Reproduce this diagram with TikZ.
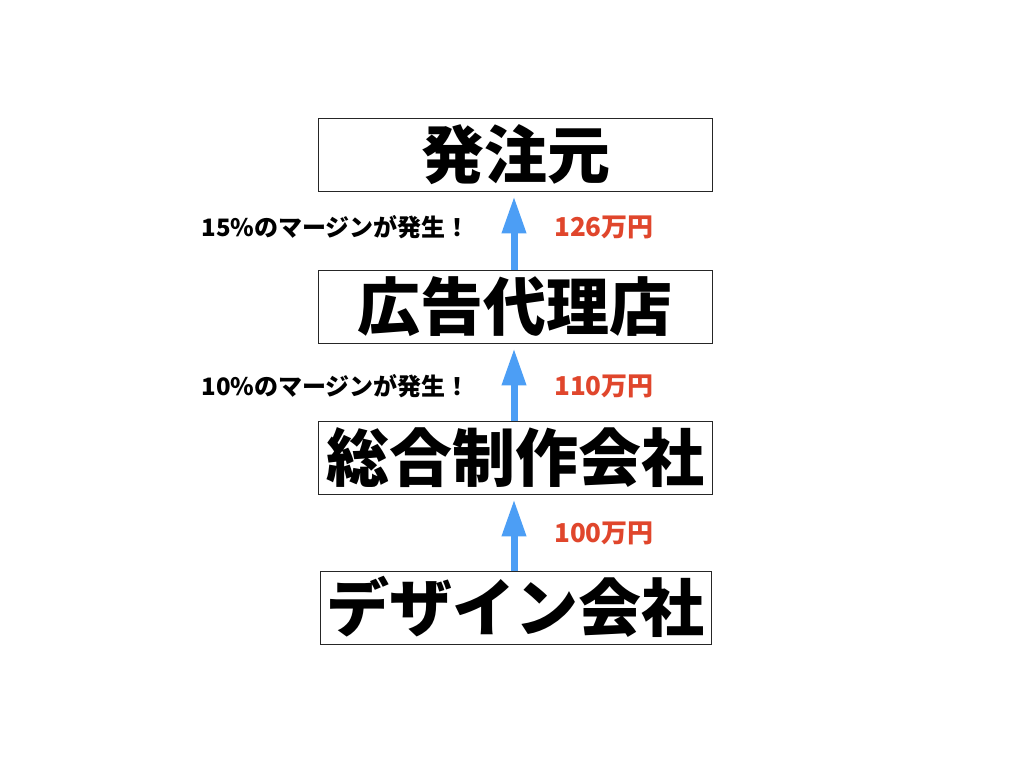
\documentclass[tikz,border=0pt]{standalone}
\usepackage{fontspec}
\setmainfont{Noto Sans CJK JP}
\newfontfamily\cjk{Noto Sans CJK JP}
\usetikzlibrary{arrows.meta}
\definecolor{arrowblue}{RGB}{76,158,245}
\definecolor{moneyred}{RGB}{224,70,44}
\tikzset{
  orgbox/.style={draw=black!85, line width=0.9pt, minimum width=394pt, minimum height=73pt,
    inner sep=0pt, text height=55.4pt, text depth=7.6pt,
    font=\cjk\bfseries\fontsize{63}{70}\selectfont},
  flow/.style={draw=arrowblue, line width=7pt, -{Triangle[length=37pt,width=23pt]}, shorten >=5pt},
  note/.style={font=\cjk\bfseries\fontsize{24}{27}\selectfont, inner sep=0pt, text height=21.1pt, text depth=2.9pt},
  money/.style={note, text=moneyred, font=\cjk\bfseries\fontsize{26}{29}\selectfont, text height=22.9pt, text depth=3.1pt}
}
\begin{document}
\begin{tikzpicture}[x=1pt,y=-1pt]
\useasboundingbox (0,0) rectangle (1024,768);
\node[orgbox] (client) at (515.5,154.5) {発注元};
\node[orgbox] (agency) at (515,306.5) {広告代理店};
\node[orgbox] (general) at (515,457.5) {総合制作会社};
\node[orgbox, minimum width=391pt] (design) at (515.5,608) {デザイン会社};
\draw[flow] (agency.north -| 514,0) -- (client.south -| 514,0);
\draw[flow] (general.north -| 514,0) -- (agency.south -| 514,0);
\draw[flow] (design.north -| 514,0) -- (general.south -| 514,0);
\node[note, anchor=east] (m15) at (470,227) {15\%のマージンが発生！};
\node[money, anchor=west] (p126) at (554,227) {126万円};
\node[note, anchor=east] (m10) at (470,386) {10\%のマージンが発生！};
\node[money, anchor=west] (p110) at (554,386) {110万円};
\node[money, anchor=west] (p100) at (554,533) {100万円};
\end{tikzpicture}
\end{document}
